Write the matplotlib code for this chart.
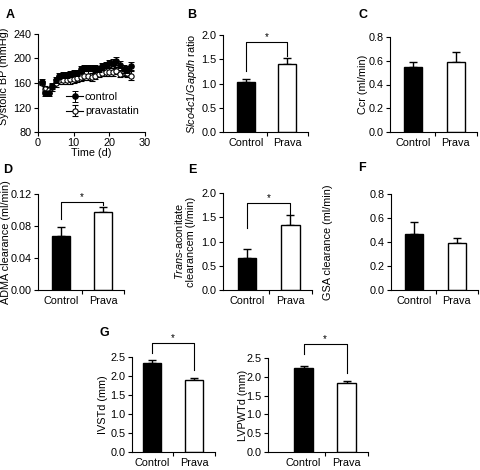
import matplotlib
matplotlib.use("Agg")
import matplotlib.pyplot as plt
import numpy as np

plt.rcParams['font.family'] = ['Liberation Sans', 'DejaVu Sans']
plt.rcParams['mathtext.fontset'] = 'custom'
plt.rcParams['mathtext.rm'] = 'Liberation Sans'
plt.rcParams['mathtext.it'] = 'Liberation Sans:italic'
plt.rcParams['axes.linewidth'] = 0.8

# ---- Data ----
days = [1, 2, 3, 4, 5, 6, 7, 8, 9, 10, 11, 12, 13, 14, 15, 16, 17, 18, 19, 20, 21, 22, 23, 24, 25, 26]
bp_control = [162, 143, 143, 155, 165, 172, 173, 173, 175, 176, 177, 183, 184, 185, 185, 185, 183, 187, 190, 192, 193, 196, 190, 183, 182, 188]
bp_control_err = [4, 4, 4, 5, 5, 5, 5, 5, 5, 5, 5, 5, 5, 5, 5, 5, 5, 5, 5, 6, 6, 7, 6, 6, 6, 6]
bp_prava = [160, 150, 148, 153, 160, 165, 165, 165, 166, 167, 168, 170, 172, 172, 170, 172, 175, 177, 178, 178, 178, 180, 175, 178, 176, 172]
bp_prava_err = [4, 5, 5, 6, 7, 7, 7, 7, 7, 7, 7, 7, 7, 7, 7, 6, 6, 6, 6, 6, 6, 6, 6, 6, 7, 7]

groups = ["Control", "Prava"]
slco_mean = [1.04, 1.40]
slco_err = [0.05, 0.13]
ccr_mean = [0.55, 0.59]
ccr_err = [0.04, 0.08]
adma_mean = [0.067, 0.097]
adma_err = [0.012, 0.007]
trans_mean = [0.67, 1.35]
trans_err = [0.18, 0.20]
gsa_mean = [0.47, 0.39]
gsa_err = [0.10, 0.045]
ivstd_mean = [2.35, 1.90]
ivstd_err = [0.08, 0.05]
lvpwtd_mean = [2.24, 1.83]
lvpwtd_err = [0.06, 0.05]

W, H = 481, 470
fig = plt.figure(figsize=(W / 100, H / 100), dpi=100)


def add_ax(x0, y0, x1, y1):
    ax = fig.add_axes([x0 / W, (H - y1) / H, (x1 - x0) / W, (y1 - y0) / H])
    ax._px = (x0, x1, y0, y1)
    return ax


FS = 7.8


def style(ax, yfs=FS):
    for s in ['top', 'right']:
        ax.spines[s].set_visible(False)
    ax.tick_params(axis='y', direction='out', length=3, width=0.8, labelsize=yfs, pad=1.5)


def place_ylabel(ax, right_px, center_y_px=None):
    x0, x1, y0, y1 = ax._px
    yc = 0.5 if center_y_px is None else (y1 - center_y_px) / (y1 - y0)
    ax.yaxis.set_label_coords((right_px - x0) / (x1 - x0), yc)


def bar_panel(ax, means, errs, ylim, yticks, ylabel, xlim, fmt, label_px, sig=None, yfs=FS):
    style(ax, yfs)
    x = np.arange(len(groups))
    ax.bar(x, means, width=0.43, color=['black', 'white'], edgecolor='black', linewidth=1.0, zorder=2)
    ax.errorbar(x, means, yerr=[[0, 0], errs], fmt='none', ecolor='black', elinewidth=1.0,
                capsize=3, capthick=1.0, zorder=1)
    ax.set_xlim(*xlim)
    ax.set_ylim(*ylim)
    ax.set_yticks(yticks)
    ax.set_yticklabels([fmt.format(v) for v in yticks])
    ax.set_xticks(x)
    ax.set_xticklabels(groups, fontsize=FS)
    ax.tick_params(axis='x', length=0, pad=4)
    ax.set_xticks([0.5, 1.5], minor=True)
    ax.tick_params(axis='x', which='minor', length=3, width=0.8, direction='out')
    ax.set_ylabel(ylabel, fontsize=FS, linespacing=1.1)
    place_ylabel(ax, label_px)
    if sig is not None:
        ytop, yl, yr = sig
        ax.plot([0, 0, 1, 1], [yl, ytop, ytop, yr], color='black', lw=0.8, clip_on=False)
        ax.text(0.5, ytop, '*', ha='center', va='bottom', fontsize=7, clip_on=False)


# Panel A
axA = add_ax(38, 34, 145, 132)
style(axA)
axA.errorbar(days, bp_prava, yerr=bp_prava_err, fmt='-o', color='black', mfc='white', mec='black',
             ms=3.8, lw=0.8, elinewidth=0.7, capsize=2, capthick=0.7, mew=0.8,
             label='pravastatin', zorder=2)
axA.errorbar(days, bp_control, yerr=bp_control_err, fmt='-o', color='black', mfc='black', mec='black',
             ms=3.8, lw=0.8, elinewidth=0.7, capsize=2, capthick=0.7, label='control', zorder=3)
axA.set_xlim(0, 30)
axA.set_ylim(80, 240)
axA.set_xticks([0, 10, 20, 30])
axA.set_yticks([80, 120, 160, 200, 240])
axA.tick_params(axis='x', direction='out', length=3, width=0.8, labelsize=FS, pad=1.5)
axA.set_xlabel('Time (d)', fontsize=FS, labelpad=0)
axA.set_ylabel('Systolic BP (mmHg)', fontsize=FS)
place_ylabel(axA, 9, 76)
h, l = axA.get_legend_handles_labels()
axA.legend([h[1], h[0]], [l[1], l[0]], loc='upper left',
           bbox_to_anchor=((66 - 38) / 107, 1 - (92 - 34) / 98), frameon=False,
           fontsize=FS, handlelength=1.6, handletextpad=0.15, borderpad=0.0, borderaxespad=0.0,
           labelspacing=0.4)

# Panel B
axB = add_ax(223, 35, 308, 132)
bar_panel(axB, slco_mean, slco_err, (0, 2.0), [0.0, 0.5, 1.0, 1.5, 2.0],
          r'$\mathit{Slco4c1/Gapdh}$ ratio', (-0.55, 1.5), '{:.1f}', 199, sig=(1.85, 1.25, 1.57))

# Panel C
axC = add_ax(390, 37, 477, 132)
bar_panel(axC, ccr_mean, ccr_err, (0, 0.8), [0.0, 0.2, 0.4, 0.6, 0.8],
          'Ccr (ml/min)', (-0.55, 1.5), '{:.1f}', 368)

# Panel D
axD = add_ax(38, 194, 124, 290)
bar_panel(axD, adma_mean, adma_err, (0, 0.12), [0.0, 0.04, 0.08, 0.12],
          'ADMA clearance (ml/min)', (-0.55, 1.5), '{:.2f}', 11, sig=(0.11, 0.089, 0.106))

# Panel E
axE = add_ax(223, 193, 312, 290)
bar_panel(axE, trans_mean, trans_err, (0, 2.0), [0.0, 0.5, 1.0, 1.5, 2.0],
          '$\\mathit{Trans}$-aconitate\nclearancem (l/min)', (-0.55, 1.5), '{:.1f}', 196,
          sig=(1.8, 1.28, 1.57))

# Panel F
axF = add_ax(391, 194, 478, 290)
bar_panel(axF, gsa_mean, gsa_err, (0, 0.8), [0.0, 0.2, 0.4, 0.6, 0.8],
          'GSA clearance (ml/min)', (-0.55, 1.5), '{:.1f}', 333)

# Panel G
axG1 = add_ax(132, 357, 215, 452)
bar_panel(axG1, ivstd_mean, ivstd_err, (0, 2.5), [0.0, 0.5, 1.0, 1.5, 2.0, 2.5],
          'IVSTd (mm)', (-0.48, 1.5), '{:.1f}', 108, sig=(2.87, 2.6, 2.15))
axG2 = add_ax(268, 358, 368, 452)
bar_panel(axG2, lvpwtd_mean, lvpwtd_err, (0, 2.5), [0.0, 0.5, 1.0, 1.5, 2.0, 2.5],
          'LVPWTd (mm)', (-0.83, 1.5), '{:.1f}', 248, sig=(2.87, 2.6, 2.1))

# Panel letters
for lab, x, y in [('A', 10, 15), ('B', 192, 15), ('C', 363, 15), ('D', 8, 170),
                  ('E', 192, 170), ('F', 362, 168), ('G', 104, 333)]:
    fig.text(x / W, 1 - y / H, lab, fontsize=9, fontweight='bold', ha='center', va='center')

fig.savefig('out.png', dpi=100)
